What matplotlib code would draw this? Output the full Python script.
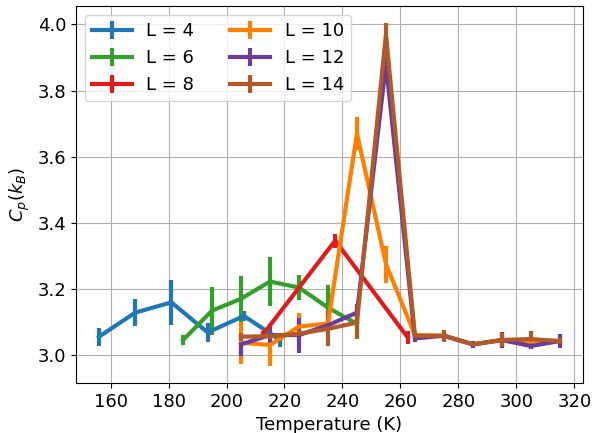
import matplotlib
matplotlib.use("Agg")
import matplotlib.pyplot as plt

# Data
T4 = [156, 168.5, 181, 193.5, 206, 218.5]
C4 = [3.055, 3.128, 3.159, 3.068, 3.118, 3.045]
E4 = [0.027, 0.04, 0.067, 0.03, 0.015, 0.02]

T6 = [185, 195, 205, 215, 225, 235, 245]
C6 = [3.045, 3.134, 3.17, 3.222, 3.204, 3.143, 3.094]
E6 = [0.015, 0.073, 0.07, 0.073, 0.038, 0.07, 0.045]

T8 = [212.5, 237.5, 262.5]
C8 = [3.061, 3.346, 3.053]
E8 = [0.01, 0.021, 0.02]

T10 = [205, 215, 225, 235, 245, 255, 265, 275, 285, 295, 305, 315]
C10 = [3.037, 3.03, 3.086, 3.095, 3.67, 3.275, 3.06, 3.058, 3.032, 3.045, 3.04, 3.042]
E10 = [0.063, 0.063, 0.04, 0.02, 0.05, 0.056, 0.01, 0.01, 0.01, 0.02, 0.01, 0.01]

T12 = [205, 215, 225, 235, 245, 255, 265, 275, 285, 295, 305, 315]
C12 = [3.032, 3.06, 3.06, 3.09, 3.128, 3.88, 3.05, 3.058, 3.032, 3.045, 3.027, 3.042]
E12 = [0.035, 0.033, 0.053, 0.01, 0.025, 0.04, 0.01, 0.01, 0.01, 0.025, 0.01, 0.02]

T14 = [205, 215, 225, 235, 245, 255, 265, 275, 285, 295, 305, 315]
C14 = [3.055, 3.057, 3.064, 3.079, 3.098, 3.97, 3.058, 3.058, 3.032, 3.045, 3.048, 3.042]
E14 = [0.01, 0.01, 0.01, 0.053, 0.048, 0.035, 0.01, 0.018, 0.005, 0.02, 0.025, 0.01]

labels = ["L = 4", "L = 6", "L = 8", "L = 10", "L = 12", "L = 14"]
colors = ["#1f78b4", "#33a02c", "#e31a1c", "#ff7f00", "#6a3d9a", "#b15928"]

series = [(T4, C4, E4), (T6, C6, E6), (T8, C8, E8),
          (T10, C10, E10), (T12, C12, E12), (T14, C14, E14)]

plt.rcParams['font.size'] = 13
fig = plt.figure(figsize=(5.93, 4.33), dpi=100)
ax = fig.add_axes([0.128, 0.1155, 0.855, 0.8715])

for (t, c, e), lab, col in zip(series, labels, colors):
    ax.errorbar(t, c, yerr=e, color=col, lw=3, elinewidth=3, label=lab)

ax.grid(True)
ax.set_xlabel("Temperature (K)")
ax.set_ylabel(r"$C_p(k_B)$")
ax.set_xticks([160, 180, 200, 220, 240, 260, 280, 300, 320])
ax.legend(ncol=2, loc="upper left", handlelength=2.2)

fig.savefig("out.png", dpi=100)
